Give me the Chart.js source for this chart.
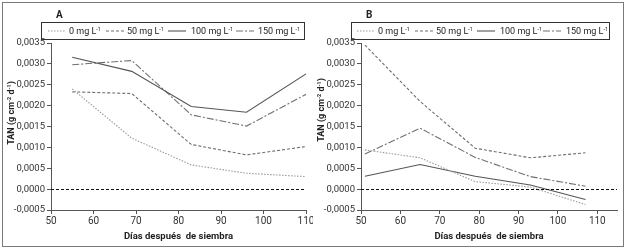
<!DOCTYPE html>
<html>
<head>
<meta charset="utf-8">
<script src="https://cdn.jsdelivr.net/npm/chart.js@4/dist/chart.umd.min.js"></script>
<style>
  html,body{margin:0;padding:0;background:#fff;}
  #wrap{position:relative;width:627px;height:251px;overflow:hidden;}
  #frame{position:absolute;left:2px;top:2px;width:620px;height:243px;border:1px solid #7a7a7a;}
  .cv{position:absolute;top:0;}
</style>
</head>
<body>
<div id="wrap">
  <div id="frame"></div>
  <div class="cv" style="left:0;width:313px;height:251px;"><canvas id="cA"></canvas></div>
  <div class="cv" style="left:310px;width:317px;height:251px;"><canvas id="cB"></canvas></div>
</div>
<script>
// ---- data ----
const seriesLabels = ['0 mg L\u207B\u00B9', '50 mg L\u207B\u00B9', '100 mg L\u207B\u00B9', '150 mg L\u207B\u00B9'];
const daysA = [55, 69, 83, 96, 110];
const a0   = [0.00240, 0.00122, 0.00058, 0.00038, 0.00030];
const a50  = [0.00233, 0.00229, 0.00107, 0.00082, 0.00102];
const a100 = [0.00316, 0.00282, 0.00198, 0.00184, 0.00276];
const a150 = [0.00298, 0.00308, 0.00178, 0.00151, 0.00227];
const daysB = [51, 65, 79, 93, 107];
const b0   = [0.00094, 0.00075, 0.00018, 0.00005, -0.00037];
const b50  = [0.00345, 0.00210, 0.00098, 0.00075, 0.00087];
const b100 = [0.00031, 0.00059, 0.00031, 0.00010, -0.00025];
const b150 = [0.00084, 0.00146, 0.00076, 0.00030, 0.00007];
const yTicks = [-0.0005, 0, 0.0005, 0.0010, 0.0015, 0.0020, 0.0025, 0.0030, 0.0035];
const xTicks = [50, 60, 70, 80, 90, 100, 110];
const yTitle = 'TAN (g cm\u207B\u00B2 d\u207B\u00B9)';
const xTitle = 'D\u00EDas despu\u00E9s  de siembra';

const FONT = 'Roboto, "Liberation Sans", Arial, sans-serif';
const styles = [
  {color:'#9a9a9a', dash:[1.5,1.5]},
  {color:'#6e6e6e', dash:[3,2]},
  {color:'#555555', dash:[]},
  {color:'#707070', dash:[7,2,2,2]}
];

function pts(xs, ys){ return xs.map((x,i)=>({x:x, y:ys[i]})); }

function makeDatasets(xs, arrs){
  return arrs.map((a,i)=>({
    label: seriesLabels[i],
    data: pts(xs, a),
    borderColor: styles[i].color,
    borderDash: styles[i].dash,
    borderWidth: 1.1,
    pointRadius: 0,
    fill: false,
    tension: 0
  }));
}

// split text into normal / superscript runs
const SUP = {'\u207B':'-', '\u00B9':'1', '\u00B2':'2', '\u00B3':'3'};
function runs(text){
  const out = [];
  for (const ch of text){
    const sup = ch in SUP;
    const c = sup ? SUP[ch] : ch;
    if (out.length && out[out.length-1].sup === sup) out[out.length-1].t += c;
    else out.push({t:c, sup:sup});
  }
  return out;
}
function richWidth(ctx, text, size, weight){
  let w = 0;
  for (const r of runs(text)){
    ctx.font = weight + ' ' + (r.sup ? size*0.6 : size) + 'px ' + FONT;
    w += ctx.measureText(r.t).width;
  }
  return w;
}
function drawRich(ctx, text, x, y, size, weight){
  ctx.textAlign = 'left';
  ctx.textBaseline = 'alphabetic';
  for (const r of runs(text)){
    const s = r.sup ? size*0.6 : size;
    ctx.font = weight + ' ' + s + 'px ' + FONT;
    ctx.fillText(r.t, x, r.sup ? y - size*0.4 : y);
    x += ctx.measureText(r.t).width;
  }
}

const decor = {
  id: 'decor',
  afterDatasetsDraw(chart, args, opts){
    const ctx = chart.ctx, ca = chart.chartArea, ys = chart.scales.y;
    const y0 = Math.round(ys.getPixelForValue(0)) + 0.5;
    ctx.save();
    ctx.strokeStyle = '#111'; ctx.lineWidth = 1; ctx.setLineDash([3,2]);
    ctx.beginPath(); ctx.moveTo(ca.left, y0); ctx.lineTo(ca.right, y0); ctx.stroke();
    ctx.restore();
  },
  afterDraw(chart, args, opts){
    const ctx = chart.ctx;
    ctx.save();
    ctx.fillStyle = '#222';
    ctx.font = 'bold 10px ' + FONT;
    ctx.textBaseline = 'middle'; ctx.textAlign = 'left';
    ctx.fillText(opts.letter, opts.letterX, 15);
    // y title (rotated)
    ctx.save();
    ctx.translate(opts.yTitleX, opts.yTitleY);
    ctx.rotate(-Math.PI/2);
    const tw = richWidth(ctx, yTitle, 9, 'bold');
    drawRich(ctx, yTitle, -tw/2, 3.3, 9, 'bold');
    ctx.restore();
    // legend box
    const bx = opts.legX, by = 22, bw = opts.legW, bh = 17;
    ctx.strokeStyle = '#333'; ctx.lineWidth = 1; ctx.setLineDash([]);
    ctx.strokeRect(bx + 0.5, by + 0.5, bw, bh);
    ctx.fillStyle = '#222';
    const cy = by + bh/2 + 0.5;
    chart.data.datasets.forEach((ds, i) => {
      const lx = bx + opts.itemX[i];
      ctx.save();
      ctx.strokeStyle = ds.borderColor; ctx.lineWidth = 1.1;
      ctx.setLineDash(ds.borderDash);
      ctx.beginPath(); ctx.moveTo(lx, cy); ctx.lineTo(lx + 18, cy); ctx.stroke();
      ctx.restore();
      drawRich(ctx, ds.label, bx + opts.textX[i], cy + 3.3, 9, 'normal');
    });
    ctx.restore();
  }
};

function makeChart(id, xs, arrs, xmax, padRight, decorOpts){
  return new Chart(document.getElementById(id), {
    type: 'line',
    data: { datasets: makeDatasets(xs, arrs) },
    plugins: [decor],
    options: {
      responsive: true,
      maintainAspectRatio: false,
      animation: false,
      layout: { padding: { top: 43, right: padRight, bottom: 0, left: 0 } },
      plugins: {
        legend: { display: false },
        tooltip: { enabled: false },
        decor: decorOpts
      },
      scales: {
        x: {
          type: 'linear', min: 50, max: xmax,
          afterBuildTicks: (s) => { s.ticks = xTicks.map(v => ({value: v})); },
          afterFit: (s) => { s.height = 41; s.paddingLeft = 0; s.paddingRight = 0; },
          grid: { drawOnChartArea: false, tickLength: 4, color: '#555', tickColor: '#555' },
          border: { color: '#555', width: 1 },
          ticks: { color: '#333', font: { family: FONT, size: 10 }, padding: 1, maxRotation: 0 },
          title: { display: true, text: xTitle, color: '#222', font: { family: FONT, size: 9.5, weight: 'bold' }, padding: { top: 0, bottom: 9 } }
        },
        y: {
          type: 'linear', min: -0.0005, max: 0.0035,
          afterBuildTicks: (s) => { s.ticks = yTicks.map(v => ({value: v})); },
          afterFit: (s) => { s.width = 51; },
          grid: { drawOnChartArea: false, tickLength: 4, color: '#555', tickColor: '#555' },
          border: { color: '#555', width: 1 },
          ticks: {
            color: '#333', font: { family: FONT, size: 9.5 }, padding: 2,
            callback: (v) => { const n = Math.abs(v) < 1e-12 ? 0 : v; return n.toFixed(4).replace('.', ','); }
          }
        }
      }
    }
  });
}

makeChart('cA', daysA, [a0, a50, a100, a150], 110, 7,
  { letter: 'A', letterX: 56, yTitleX: 11, yTitleY: 113, legX: 41, legW: 263,
    itemX: [7, 65, 127, 195], textX: [28, 86, 150, 217] });
makeChart('cB', daysB, [b0, b50, b100, b150], 115, 10,
  { letter: 'B', letterX: 56, yTitleX: 11, yTitleY: 110, legX: 41, legW: 258,
    itemX: [6, 64, 126, 192], textX: [27, 85, 149, 215] });
</script>
</body>
</html>
